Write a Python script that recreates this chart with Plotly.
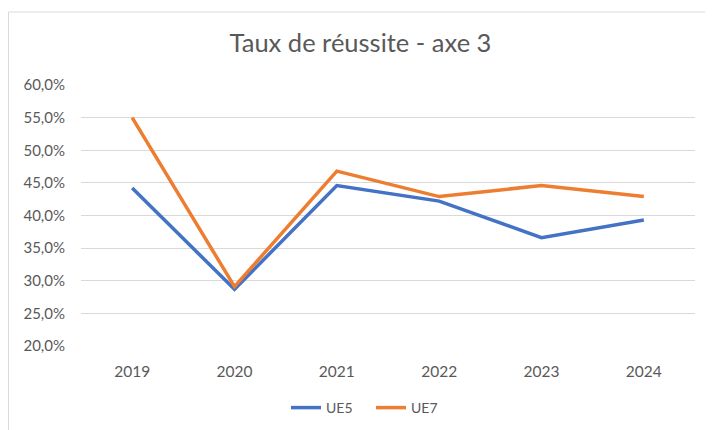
import plotly.graph_objects as go

years = ["2019", "2020", "2021", "2022", "2023", "2024"]
ue5 = [0.442, 0.287, 0.446, 0.422, 0.366, 0.393]
ue7 = [0.550, 0.291, 0.468, 0.429, 0.446, 0.429]
y_ticks = [0.20, 0.25, 0.30, 0.35, 0.40, 0.45, 0.50, 0.55, 0.60]

# page body has an 8px margin, so the figure is 8px smaller than the window
W, H = 705, 422
L, R, T, B = 73, 18, 77, 84
PW, PH = W - L - R, H - T - B

fig = go.Figure()
fig.add_trace(go.Scatter(x=years, y=ue5, mode="lines", name="UE5",
                         line=dict(color="#4472C4", width=3.5)))
fig.add_trace(go.Scatter(x=years, y=ue7, mode="lines", name="UE7",
                         line=dict(color="#ED7D31", width=3.5)))

font_fam = "Lato, 'Open Sans', sans-serif"
fig.update_layout(
    width=W, height=H,
    margin=dict(l=L, r=R, t=T, b=B, autoexpand=False),
    paper_bgcolor="white", plot_bgcolor="white",
    separators=", ",
    font=dict(family=font_fam, color="#595959", size=15),
    title=dict(text="Taux de réussite - axe 3", x=0.5, xanchor="center",
               y=1 - 35 / H, yanchor="middle", xref="container",
               font=dict(size=25.5, color="#595959", family=font_fam)),
    showlegend=True,
    legend=dict(orientation="h", xref="container", x=278 / W, xanchor="left",
                yref="container", y=22 / H, yanchor="middle",
                entrywidth=40, entrywidthmode="pixels",
                font=dict(size=14, color="#595959"),
                traceorder="normal"),
    shapes=[dict(type="rect", xref="paper", yref="paper",
                 x0=(0.5 - L) / PW, x1=1 + 30 / PW, y0=-(B + 20) / PH, y1=1 + (T - 4) / PH,
                 line=dict(color="#D9D9D9", width=1), layer="below")],
)
fig.update_xaxes(type="category", range=[-0.5, 5.5], showgrid=False, showline=False,
                 ticks="", ticklabelstandoff=14,
                 tickfont=dict(size=15.5, color="#595959"), fixedrange=True)
fig.update_yaxes(range=[0.20, 0.60], tickvals=y_ticks, tickformat=".1%",
                 showgrid=True, gridcolor="#D9D9D9", gridwidth=1, zeroline=False,
                 showline=False, ticks="", ticklabelstandoff=15,
                 tickfont=dict(size=15, color="#595959"))

fig.write_html("out.html")
